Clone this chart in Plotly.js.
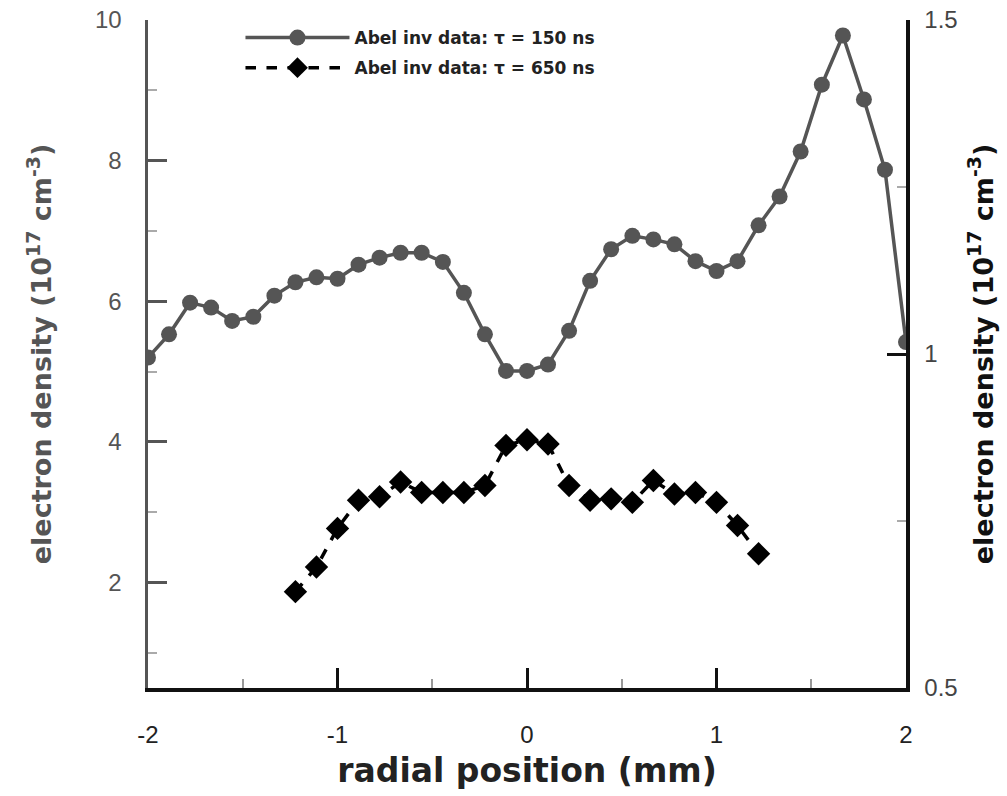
<!DOCTYPE html>
<html>
<head>
<meta charset="utf-8">
<script src="https://cdn.plot.ly/plotly-3.0.1.min.js"></script>
<style>html,body{margin:0;padding:0;background:#fff;}#chart{width:1007px;height:796px;}</style>
</head>
<body>
<div id="chart"></div>
<script>
// radial positions (mm) for 150 ns profile
const x150 = [-2.000,-1.889,-1.778,-1.667,-1.556,-1.444,-1.333,-1.222,-1.111,-1.000,
  -0.889,-0.778,-0.667,-0.556,-0.444,-0.333,-0.222,-0.111,0.000,0.111,
  0.222,0.333,0.444,0.556,0.667,0.778,0.889,1.000,1.111,1.222,
  1.333,1.444,1.556,1.667,1.778,1.889,2.000];
const n150 = [5.20,5.53,5.98,5.91,5.72,5.78,6.08,6.27,6.34,6.32,
  6.52,6.62,6.69,6.69,6.56,6.12,5.53,5.01,5.01,5.10,
  5.58,6.29,6.74,6.93,6.88,6.81,6.57,6.43,6.57,7.08,
  7.49,8.13,9.08,9.78,8.87,7.87,5.42];
// radial positions (mm) for 650 ns profile
const x650 = [-1.222,-1.111,-1.000,-0.889,-0.778,-0.667,-0.556,-0.444,-0.333,-0.222,
  -0.111,0.000,0.111,0.222,0.333,0.444,0.556,0.667,0.778,0.889,
  1.000,1.111,1.222];
const n650 = [1.87,2.22,2.77,3.17,3.22,3.43,3.28,3.28,3.28,3.38,
  3.95,4.03,3.97,3.38,3.17,3.19,3.14,3.45,3.26,3.28,
  3.14,2.81,2.41];
const xTicks = [-2,-1,0,1,2];
const yTicks = [2,4,6,8,10];
const y2Ticks = [0.5,1,1.5];
const y2TickText = ['0.5','1','1.5'];
const seriesNames = ['Abel inv data: \u03c4 = 150 ns','Abel inv data: \u03c4 = 650 ns'];
const yTitle = 'electron density (10<sup>17</sup> cm<sup>-3</sup>)';
const xTitle = 'radial position (mm)';

const FONT = 'Liberation Sans, Arial, Helvetica, sans-serif';
const BFONT = 'DejaVu Sans, Liberation Sans, Arial, sans-serif';
const traces = [
  {x:x150, y:n150, name:seriesNames[0], type:'scatter', mode:'lines+markers', legendgroup:'a',
   line:{color:'#555555', width:3.5}, marker:{symbol:'circle', size:16, color:'#555555'}},
  {x:x650, y:n650, name:seriesNames[1], type:'scatter', mode:'lines+markers', legendgroup:'b',
   line:{color:'#000000', width:3.5, dash:'dash'}, marker:{symbol:'diamond', size:18, color:'#000000'}},
  // carrier for the right-hand axis (no visible marks)
  {x:[null], y:[null], yaxis:'y2', type:'scatter', mode:'markers', showlegend:false, hoverinfo:'skip'}
];
const layout = {
  width:1007, height:796,
  paper_bgcolor:'#ffffff', plot_bgcolor:'#ffffff',
  margin:{l:148, r:101, t:20, b:108},
  showlegend:true,
  legend:{x:0.122, y:1.0, xanchor:'left', yanchor:'top', bgcolor:'rgba(0,0,0,0)',
    font:{family:BFONT, size:17, color:'#222', weight:'bold'}, itemwidth:104, tracegroupgap:5},
  font:{family:FONT},
  xaxis:{range:[-2,2], tickvals:xTicks, ticktext:xTicks.map(String), ticks:'inside', ticklen:20, tickwidth:3,
    tickcolor:'#111', showline:true, linecolor:'#111', linewidth:3.5, zeroline:false, showgrid:false,
    ticklabelstandoff:23,
    tickfont:{family:FONT, size:24, color:'#222'},
    minor:{tickvals:[-1.5,-0.5,0.5,1.5], ticks:'inside', ticklen:9, tickwidth:2, tickcolor:'#999'},
    title:{text:xTitle, font:{family:BFONT, size:33, color:'#222', weight:'bold'}, standoff:12}},
  yaxis:{range:[0.5,10], tickvals:yTicks, ticktext:yTicks.map(String), ticks:'inside', ticklen:19, tickwidth:3,
    tickcolor:'#555', showline:true, linecolor:'#555', linewidth:3.5, zeroline:false, showgrid:false,
    ticklabelstandoff:18,
    tickfont:{family:FONT, size:24, color:'#555'},
    minor:{tickvals:[1,3,5,7,9], ticks:'inside', ticklen:9, tickwidth:2, tickcolor:'#aaa'},
    title:{text:yTitle, font:{family:BFONT, size:27, color:'#555', weight:'bold'}, standoff:36}},
  yaxis2:{overlaying:'y', side:'right', range:[0.5,1.5], tickvals:y2Ticks, ticktext:y2TickText,
    ticks:'inside', ticklen:19, tickwidth:3, tickcolor:'#111', showline:true, linecolor:'#111', linewidth:3.5,
    zeroline:false, showgrid:false, ticklabelstandoff:10,
    tickfont:{family:FONT, size:24, color:'#444'},
    minor:{tickvals:[0.75,1.25], ticks:'inside', ticklen:9, tickwidth:2, tickcolor:'#aaa'},
    title:{text:yTitle, font:{family:BFONT, size:27, color:'#111', weight:'bold'}, standoff:18}}
};
Plotly.newPlot('chart', traces, layout, {staticPlot:true, displayModeBar:false});
</script>
</body>
</html>
